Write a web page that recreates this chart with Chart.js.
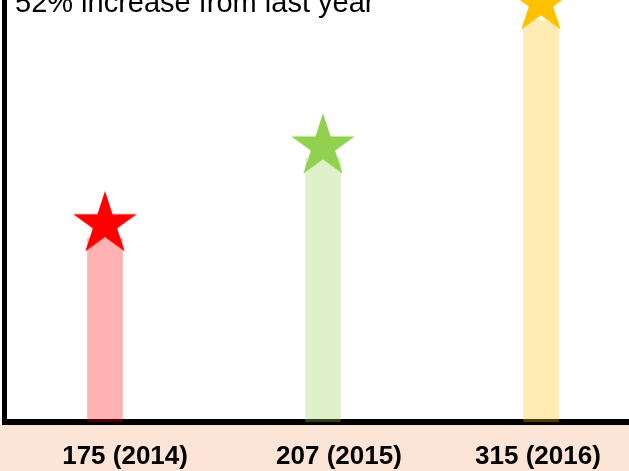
<!DOCTYPE html>
<html>
<head>
<meta charset="utf-8">
<script src="https://cdn.jsdelivr.net/npm/chart.js@4.4.1/dist/chart.umd.min.js"></script>
<style>
  html, body { margin: 0; padding: 0; background: #fff; overflow: hidden; }
</style>
</head>
<body>
<canvas id="growth" width="629" height="471"></canvas>
<script>
// values
const years = ["2014", "2015", "2016"];
const tickLabels = ["175 (2014)", "207 (2015)", "315 (2016)"];
const barValues = [144, 207, 315];     // bar heights
const starValues = [155, 216, 329];    // star markers sitting on the bars
const headline = "52% increase from last year";

const barColors = ["rgba(255,0,0,0.3)", "rgba(146,208,80,0.3)", "rgba(255,192,0,0.3)"];
const starColors = ["#ff0000", "#92d050", "#ffc000"];

// filled 5 point star used as point image
function makeStar(color) {
  const c = document.createElement("canvas");
  c.width = 72;
  c.height = 72;
  const g = c.getContext("2d");
  const R = 33.5, r = R * 0.382;
  g.beginPath();
  for (let k = 0; k < 10; k++) {
    const a = -Math.PI / 2 + k * Math.PI / 5;
    const rr = k % 2 ? r : R;
    g.lineTo(36 + rr * Math.cos(a), 36 + rr * Math.sin(a));
  }
  g.closePath();
  g.fillStyle = color;
  g.fill();
  return c;
}

const extras = {
  id: "extras",
  beforeDraw(chart) {
    const { ctx, chartArea, width, height } = chart;
    ctx.save();
    ctx.fillStyle = "#fce4d6";
    ctx.fillRect(0, chartArea.bottom + 3, width, height - chartArea.bottom - 3);
    ctx.restore();
  },
  afterDraw(chart) {
    const ctx = chart.ctx;
    ctx.save();
    ctx.font = "29px 'Liberation Sans', Arial, sans-serif";
    ctx.fillStyle = "#000";
    ctx.textBaseline = "alphabetic";
    ctx.fillText(headline, 15, 12);
    ctx.restore();
  }
};

const el = document.getElementById("growth");
new Chart(el, {
  type: "bar",
  data: {
    datasets: [
      {
        type: "line",
        label: "marker",
        data: starValues.map((v, i) => ({ x: i, y: v })),
        showLine: false,
        pointStyle: starColors.map(makeStar),
        pointRadius: 10,
        order: 0,
      },
      {
        label: "value",
        data: barValues.map((v, i) => ({ x: i, y: v })),
        backgroundColor: barColors,
        borderWidth: 0,
        barThickness: 35,
        order: 1,
      },
    ],
  },
  options: {
    responsive: false,
    animation: false,
    events: [],
    layout: { autoPadding: false, padding: { left: 4.5, top: 0, right: 0, bottom: 0 } },
    plugins: { legend: { display: false }, tooltip: { enabled: false }, title: { display: false } },
    scales: {
      x: {
        type: "linear",
        offset: false,
        min: -0.461,
        max: 2.4037,
        grid: { display: false, drawTicks: false },
        border: { display: true, color: "#000", width: 6 },
        afterBuildTicks: (s) => {
          s.ticks = [0.092, 1.073, 1.986].map((v) => ({ value: v }));
        },
        afterFit: (s) => {
          s.height = 49;
          s.paddingLeft = 0;
          s.paddingRight = 0;
        },
        ticks: {
          autoSkip: false,
          maxRotation: 0,
          padding: 19,
          color: "#000",
          font: { family: "'Liberation Sans', Arial, sans-serif", size: 26, weight: "bold" },
          callback: (v, i) => tickLabels[i],
        },
      },
      y: {
        min: 0,
        max: 331,
        grid: { display: false, drawTicks: false },
        border: { display: true, color: "#000", width: 5 },
        ticks: { display: false },
        afterFit: (s) => { s.width = 0; },
      },
    },
  },
  plugins: [extras],
});
</script>
</body>
</html>
